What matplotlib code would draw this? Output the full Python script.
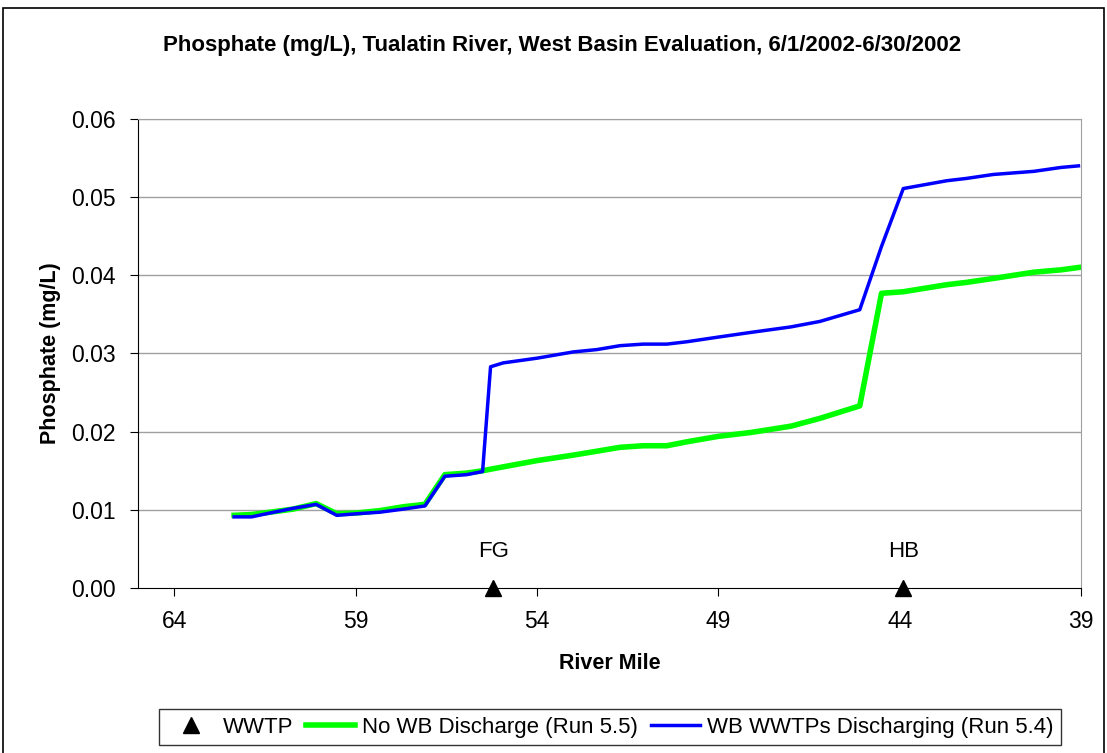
import matplotlib.pyplot as plt
from matplotlib.patches import Rectangle

plt.rcParams['font.family'] = ['Liberation Sans', 'DejaVu Sans']

# river mile of each model output point
miles = [62.35, 61.87, 61.36, 60.72, 60.09, 59.52, 58.97, 58.33, 57.68, 57.09,
         56.54, 55.94, 55.5, 55.28, 54.93, 54.0, 53.0, 52.35, 51.71, 51.07,
         50.42, 49.87, 49.0, 48.1, 47.0, 46.2, 45.1, 44.5, 43.9, 42.7,
         42.15, 41.42, 40.3, 39.55, 39.07]
# Run 5.5 - no WB discharge
no_wb = [0.0093, 0.0094, 0.0097, 0.0101, 0.0108, 0.0095, 0.0096, 0.0099, 0.0104, 0.0107,
         0.0145, 0.0147, 0.0150, 0.0152, 0.0155, 0.0163, 0.0170, 0.0175, 0.0180, 0.0182,
         0.0182, 0.0187, 0.0194, 0.0199, 0.0207, 0.0217, 0.0233, 0.0377, 0.0379, 0.0388,
         0.0391, 0.0396, 0.0404, 0.0407, 0.0410]
# Run 5.4 - WB WWTPs discharging
wb_dis = [0.0091, 0.0091, 0.0096, 0.0102, 0.0107, 0.0093, 0.0095, 0.0097, 0.0101, 0.0105,
          0.0143, 0.0145, 0.0149, 0.0283, 0.0288, 0.0294, 0.0302, 0.0305, 0.0310, 0.0312,
          0.0312, 0.0315, 0.0321, 0.0327, 0.0334, 0.0341, 0.0356, 0.0437, 0.0511, 0.0521,
          0.0524, 0.0529, 0.0533, 0.0538, 0.0540]

wwtp_miles = [55.2, 43.9]
wwtp_names = ['FG', 'HB']

fig = plt.figure(figsize=(11.07, 7.53), dpi=100)
fig.patches.append(Rectangle((0.003, -0.01), 0.994, 1.0, transform=fig.transFigure,
                             fill=False, edgecolor='black', linewidth=1.2))
ax = fig.add_axes([0.1247, 0.2191, 0.8518, 0.6229])

for v in [0.01, 0.02, 0.03, 0.04, 0.05, 0.06]:
    ax.axhline(v, color='#a0a0a0', lw=1, zorder=0)

w, = ax.plot(wwtp_miles, [0, 0], linestyle='none', marker='^', color='black',
             markersize=12, clip_on=False, zorder=5, label='WWTP')
g, = ax.plot(miles, no_wb, color='#00ff00', lw=4, label='No WB Discharge (Run 5.5)')
b, = ax.plot(miles, wb_dis, color='#0000ff', lw=2.5, label='WB WWTPs Discharging (Run 5.4)')
for m, n in zip(wwtp_miles, wwtp_names):
    ax.text(m, 0.0047, n, ha='center', va='center', fontsize=16)

ax.set_xlim(65, 39)
ax.set_ylim(0, 0.06)
ax.set_xticks([64, 59, 54, 49, 44, 39])
ax.set_yticks([0, 0.01, 0.02, 0.03, 0.04, 0.05, 0.06])
ax.set_yticklabels(['%.2f' % t for t in ax.get_yticks()])
ax.tick_params(labelsize=16.5, length=6, direction='out')
ax.tick_params(axis='x', pad=10)
ax.tick_params(axis='y', pad=10)
ax.spines['top'].set_color('#a0a0a0')
ax.spines['right'].set_color('#a0a0a0')

ax.set_xlabel('River Mile', fontsize=15.5, fontweight='bold', labelpad=14)
ax.set_ylabel('Phosphate (mg/L)', fontsize=15.5, fontweight='bold', labelpad=7)
fig.text(0.508, 0.94, 'Phosphate (mg/L), Tualatin River, West Basin Evaluation, 6/1/2002-6/30/2002',
         ha='center', va='center', fontsize=16, fontweight='bold')

leg = fig.legend(handles=[w, g, b], loc='center', bbox_to_anchor=(0.551, 0.0345), ncol=3,
                 fontsize=16, frameon=True, fancybox=False, edgecolor='black',
                 handlelength=2.2, handletextpad=0.3, columnspacing=0.6, borderpad=0.35)
leg.get_frame().set_linewidth(1)

plt.savefig('out.png', dpi=100)
